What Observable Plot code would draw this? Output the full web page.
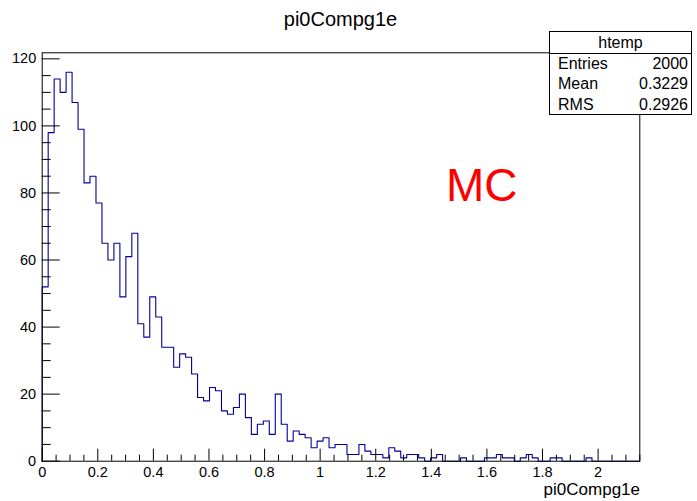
<!DOCTYPE html>
<html>
<head>
<meta charset="utf-8">
<script src="https://cdn.jsdelivr.net/npm/d3@7"></script>
<script src="https://cdn.jsdelivr.net/npm/@observablehq/plot@0.6"></script>
<style>
  html, body { margin: 0; padding: 0; background: #fff; }
  #wrap { position: relative; width: 697px; height: 501px; overflow: hidden;
          font-family: "Liberation Sans", Arial, Helvetica, sans-serif; color: #000; }
  #wrap svg { position: absolute; left: 0; top: 0; }
  .ov { position: absolute; white-space: nowrap; line-height: 1; }
  #title { left: 0; width: 681px; top: 9px; text-align: center; font-size: 20px; }
  #xtitle { right: 57px; top: 481px; font-size: 17px; }
  #mc { left: 446px; top: 162px; font-size: 46px; color: #ff0000; }
  #stats { position: absolute; left: 549px; top: 31px; width: 141px; height: 82px;
           border: 1px solid #000; background: #fff; font-size: 16px; }
  #stats .hd { height: 21px; border-bottom: 1px solid #000; text-align: center; line-height: 21px; }
  #stats .row { height: 20.3px; line-height: 20.3px; position: relative; }
  #stats .row .k { position: absolute; left: 8px; }
  #stats .row .v { position: absolute; right: 3px; }
</style>
</head>
<body>
<div id="wrap"></div>
<script>
// ---- data ----
const histName = "htemp";
const varName = "pi0Compg1e";
const xMin = 0;
const xMax = 2.15;
const counts = [
  52, 98, 114, 110, 116, 107, 99, 83, 85, 77,
  65, 60, 65, 49, 61, 68, 41, 37, 49, 43,
  34, 34, 28, 32, 31, 26, 19, 18, 22, 21,
  15, 14, 16, 20, 13, 8, 11, 12, 8, 20,
  11, 6, 9, 8, 7, 4, 6, 7, 4, 5,
  5, 2, 2, 5, 3, 2, 2, 1, 4, 3,
  1, 2, 2, 1, 0, 1, 2, 0, 0, 0,
  1, 0, 0, 0, 1, 1, 2, 1, 1, 0,
  1, 2, 1, 0, 0, 1, 1, 0, 0, 0,
  0, 1, 0, 0, 0, 0, 0, 0, 0, 0
];
const xTickValues = [0, 0.2, 0.4, 0.6, 0.8, 1, 1.2, 1.4, 1.6, 1.8, 2];
const xTickLabels = ["0", "0.2", "0.4", "0.6", "0.8", "1", "1.2", "1.4", "1.6", "1.8", "2"];
const xMinorStep = 0.05;
const yTickValues = [0, 20, 40, 60, 80, 100, 120];
const yTickLabels = ["0", "20", "40", "60", "80", "100", "120"];
const yMinorStep = 5;
const statLabels = ["Entries", "Mean", "RMS"];
const statValues = ["2000", "0.3229", "0.2926"];
const annotation = "MC";

// ---- layout ----
const W = 697, H = 501;
const mL = 41.7, mR = 57.7, mT = 52.3, mB = 40.3;
const frameW = W - mL - mR, frameH = H - mT - mB;
const yMax = 1.05 * d3.max(counts);

// step outline points (bin edges computed from range / number of bins)
const binW = (xMax - xMin) / counts.length;
const stepPts = [{x: xMin, y: 0}]
  .concat(counts.map((c, i) => ({x: xMin + i * binW, y: c})))
  .concat([{x: xMax, y: 0}]);

const xMinor = d3.range(0, Math.round((xMax - xMin) / xMinorStep) + 1)
  .map(i => +(xMin + i * xMinorStep).toFixed(4))
  .filter(v => v <= xMax + 1e-9 && !xTickValues.some(t => Math.abs(t - v) < 1e-9));
const yMinor = d3.range(0, Math.floor(yMax / yMinorStep) + 1)
  .map(i => i * yMinorStep)
  .filter(v => !yTickValues.includes(v));

const chart = Plot.plot({
  width: W, height: H,
  marginLeft: mL, marginRight: mR, marginTop: mT, marginBottom: mB,
  style: {fontFamily: '"Liberation Sans", Arial, Helvetica, sans-serif', fontSize: "14.5px", color: "#000", background: "transparent"},
  x: {domain: [xMin, xMax], label: null},
  y: {domain: [0, yMax], label: null},
  marks: [
    Plot.line(stepPts, {x: "x", y: "y", curve: "step-after", stroke: "#000099", strokeWidth: 1.1}),
    Plot.tickX(xTickValues, {x: d => d, insetTop: frameH - 12, stroke: "#000", strokeWidth: 1}),
    Plot.tickX(xMinor, {x: d => d, insetTop: frameH - 6, stroke: "#000", strokeWidth: 1}),
    Plot.tickY(yTickValues, {y: d => d, insetRight: frameW - 18, stroke: "#000", strokeWidth: 1}),
    Plot.tickY(yMinor, {y: d => d, insetRight: frameW - 9, stroke: "#000", strokeWidth: 1}),
    Plot.axisX(xTickValues, {tickSize: 0, tickPadding: 6, fontSize: 14.5, label: null,
      tickFormat: d => xTickLabels[xTickValues.indexOf(d)]}),
    Plot.axisY(yTickValues, {tickSize: 0, tickPadding: 6, fontSize: 14.5, label: null,
      tickFormat: d => yTickLabels[yTickValues.indexOf(d)]}),
    Plot.frame({stroke: "#000", strokeWidth: 1})
  ]
});

const wrap = document.getElementById("wrap");
wrap.appendChild(chart);

function addDiv(id, text) {
  const d = document.createElement("div");
  d.className = "ov"; d.id = id; d.textContent = text;
  wrap.appendChild(d);
  return d;
}
addDiv("title", varName);
addDiv("xtitle", varName);
addDiv("mc", annotation);

const box = document.createElement("div");
box.id = "stats";
const hd = document.createElement("div");
hd.className = "hd"; hd.textContent = histName;
box.appendChild(hd);
statLabels.forEach((k, i) => {
  const r = document.createElement("div");
  r.className = "row";
  const a = document.createElement("span"); a.className = "k"; a.textContent = k;
  const b = document.createElement("span"); b.className = "v"; b.textContent = statValues[i];
  r.appendChild(a); r.appendChild(b);
  box.appendChild(r);
});
wrap.appendChild(box);
</script>
</body>
</html>
